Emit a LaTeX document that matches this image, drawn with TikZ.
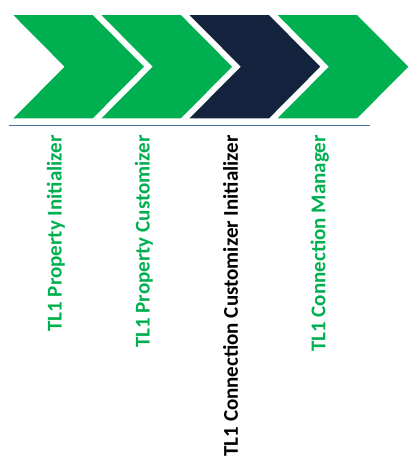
\documentclass[tikz,border=0pt]{standalone}
\usepackage{fontspec}
\setmainfont{Carlito}
\usepackage{xcolor}
\definecolor{stepgreen}{HTML}{00B050}
\definecolor{stepnavy}{HTML}{14243F}
\definecolor{ruleblue}{HTML}{4A6FA5}

\begin{document}
\begin{tikzpicture}[x=1pt, y=-1pt,
  steplabel/.style={rotate=90, anchor=base east, inner sep=0pt, font=\fontsize{21}{24}\selectfont\bfseries}]
  \useasboundingbox (0,0) rectangle (416,471);

  % Draw the chevrons
  \foreach \i/\c in {0/stepgreen, 1/stepgreen, 2/stepnavy, 3/stepgreen} {
    \fill[\c] ({13.3+88.1*\i},15) -- ++(79.4,0) -- ++(51.3,51.7) -- ++(-51.3,51.7)
      -- ++(-79.4,0) -- ++(51.3,-51.7) -- cycle;
  }

  % Draw the rule under the chevrons
  \draw[ruleblue, line width=1pt] (9.3,125.3) -- (369.5,125.3);

  % Label the steps
  \node[steplabel, stepgreen] (init) at (61.7,135) {TL1 Property Initializer};
  \node[steplabel, stepgreen] (cust) at (149.5,135) {TL1 Property Customizer};
  \node[steplabel, black] (conncust) at (237.8,135) {TL1 Connection Customizer Initializer};
  \node[steplabel, stepgreen] (connmgr) at (325.4,135) {TL1 Connection Manager};

\end{tikzpicture}
\end{document}
